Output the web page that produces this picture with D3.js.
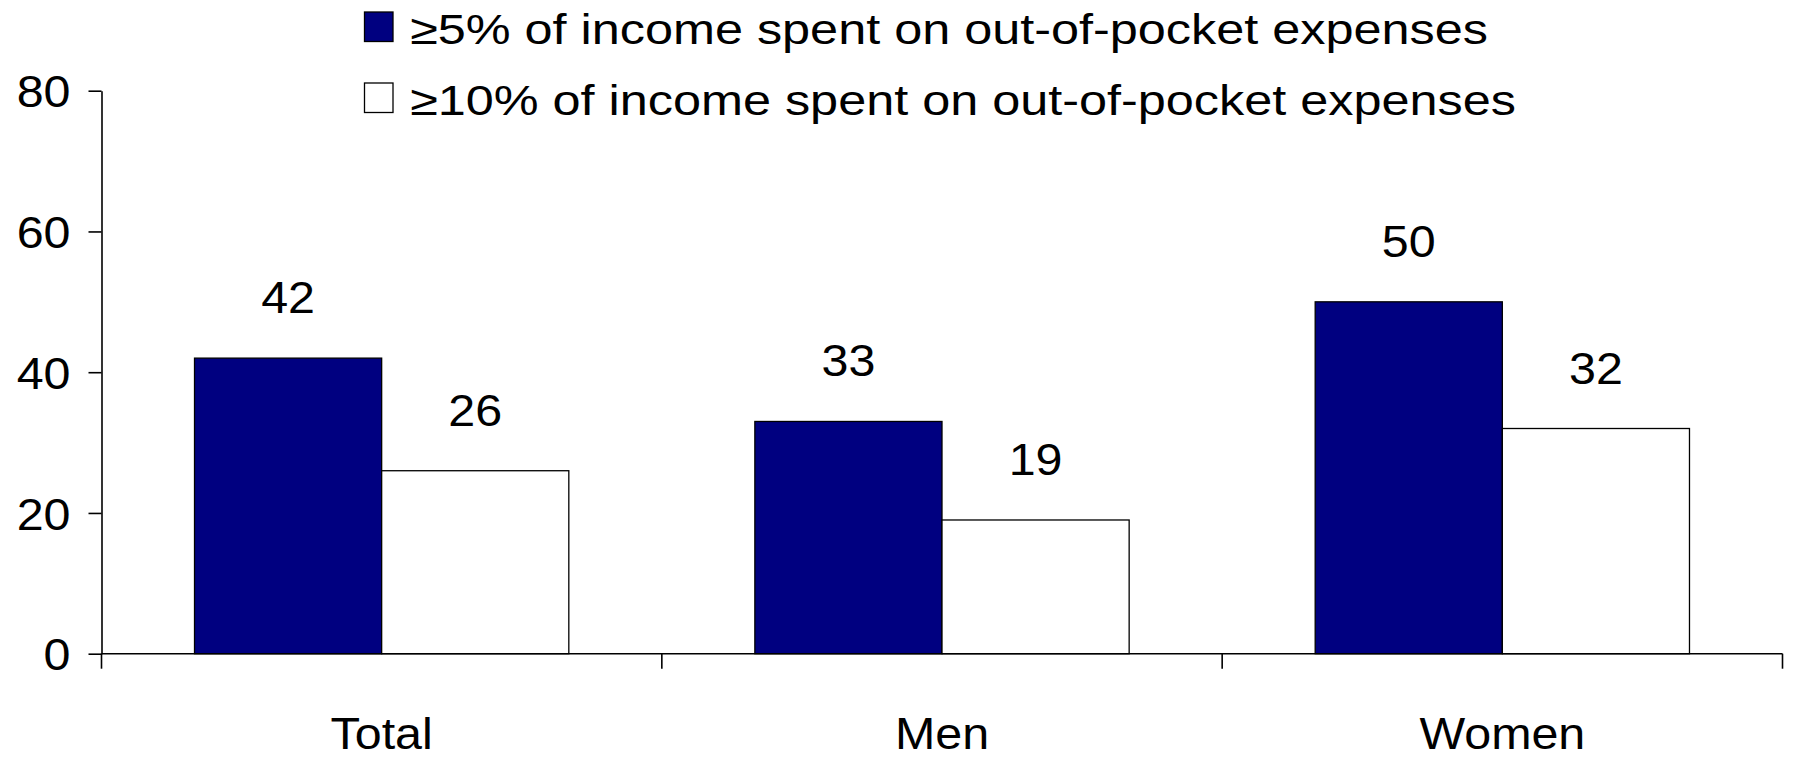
<!DOCTYPE html>
<html>
<head>
<meta charset="utf-8">
<script src="https://cdn.jsdelivr.net/npm/d3@7"></script>
<style>
  html, body { margin: 0; padding: 0; background: #ffffff; }
  svg { display: block; }
  text { font-family: "Liberation Sans", Arial, Helvetica, sans-serif; fill: #000; }
</style>
</head>
<body>
<svg id="chart" width="1795" height="758"></svg>
<script>
// ---- data ----
const categories = ["Total", "Men", "Women"];
const seriesNames = [
  "\u22655% of income spent on out-of-pocket expenses",
  "\u226510% of income spent on out-of-pocket expenses"
];
const series5 = [42, 33, 50];
const series10 = [26, 19, 32];
const yTicks = [0, 20, 40, 60, 80];
const seriesColors = ["#000080", "#ffffff"];

// ---- layout ----
const svg = d3.select("#chart");
const plot = { left: 101.5, right: 1782.5, top: 90.7, bottom: 653.7 };

const x = d3.scaleBand().domain(categories).range([plot.left, plot.right]).paddingInner(0).paddingOuter(0);
const bw = x.bandwidth();
const xSub = d3.scaleBand().domain([0, 1]).range([bw * 0.166, bw * 0.834]).padding(0);
const y = d3.scaleLinear().domain([0, 80]).range([plot.bottom, plot.top]);

function stretch(sel, f) {
  sel.each(function () {
    const t = d3.select(this);
    const tx = +t.attr("x") || 0, ty = +t.attr("y") || 0;
    t.attr("x", 0).attr("y", 0).attr("transform", `translate(${tx},${ty}) scale(${f},1)`);
  });
}

// ---- bars ----
const rows = categories.map((c, i) => ({ cat: c, vals: [series5[i], series10[i]] }));
const groups = svg.append("g").selectAll("g").data(rows).join("g")
  .attr("transform", d => `translate(${x(d.cat)},0)`);

groups.selectAll("rect").data(d => d.vals.map((v, j) => ({ v, j }))).join("rect")
  .attr("x", d => xSub(d.j))
  .attr("y", d => y(d.v))
  .attr("width", xSub.bandwidth())
  .attr("height", d => y(0) - y(d.v))
  .attr("fill", d => seriesColors[d.j])
  .attr("stroke", "#000")
  .attr("stroke-width", 1.3);

const vl = groups.selectAll("text").data(d => d.vals.map((v, j) => ({ v, j }))).join("text")
  .attr("x", d => xSub(d.j) + xSub.bandwidth() / 2)
  .attr("y", d => y(d.v) - 45)
  .attr("text-anchor", "middle")
  .style("font-size", "44px")
  .text(d => d.v);
stretch(vl, 1.1);

// ---- y axis ----
const yAxis = svg.append("g")
  .attr("transform", `translate(${plot.left},0)`)
  .call(d3.axisLeft(y).tickValues(yTicks).tickSize(13).tickPadding(18).tickSizeOuter(0));
yAxis.select(".domain").attr("stroke", "#000").attr("stroke-width", 1.6);
yAxis.selectAll(".tick line").attr("stroke", "#000").attr("stroke-width", 1.6);
yAxis.selectAll(".tick text")
  .style("font-size", "44px").style("font-family", "Liberation Sans, Arial, sans-serif")
  .attr("fill", "#000");
yAxis.selectAll(".tick text").each(function () {
  const t = d3.select(this);
  t.attr("dy", null).attr("dominant-baseline", "central")
   .attr("transform", "translate(-31,1) scale(1.1,1)").attr("x", 0);
});

// ---- x axis ----
const xAxisG = svg.append("g");
xAxisG.append("line")
  .attr("x1", plot.left).attr("x2", plot.right)
  .attr("y1", y(0)).attr("y2", y(0))
  .attr("stroke", "#000").attr("stroke-width", 1.6);
const bounds = categories.map(c => x(c)).concat([x(categories[categories.length - 1]) + bw]);
xAxisG.selectAll("line.tk").data(bounds).join("line").attr("class", "tk")
  .attr("x1", d => d).attr("x2", d => d)
  .attr("y1", y(0)).attr("y2", y(0) + 15)
  .attr("stroke", "#000").attr("stroke-width", 1.6);
const xl = xAxisG.selectAll("text").data(categories).join("text")
  .attr("x", d => x(d) + bw / 2)
  .attr("y", 749)
  .attr("text-anchor", "middle")
  .style("font-size", "44px")
  .text(d => d);
stretch(xl, 1.1);

// ---- legend ----
const legend = svg.append("g");
const legY = [12, 83];
legend.selectAll("rect").data(seriesNames).join("rect")
  .attr("x", 364.5).attr("y", (d, i) => legY[i])
  .attr("width", 28.5).attr("height", 29.5)
  .attr("fill", (d, i) => seriesColors[i])
  .attr("stroke", "#000").attr("stroke-width", 1.3);
const lt = legend.selectAll("text").data(seriesNames).join("text")
  .attr("x", 410).attr("y", (d, i) => legY[i] + 31.5)
  .style("font-size", "42px")
  .text(d => d);
stretch(lt, 1.2);
</script>
</body>
</html>
